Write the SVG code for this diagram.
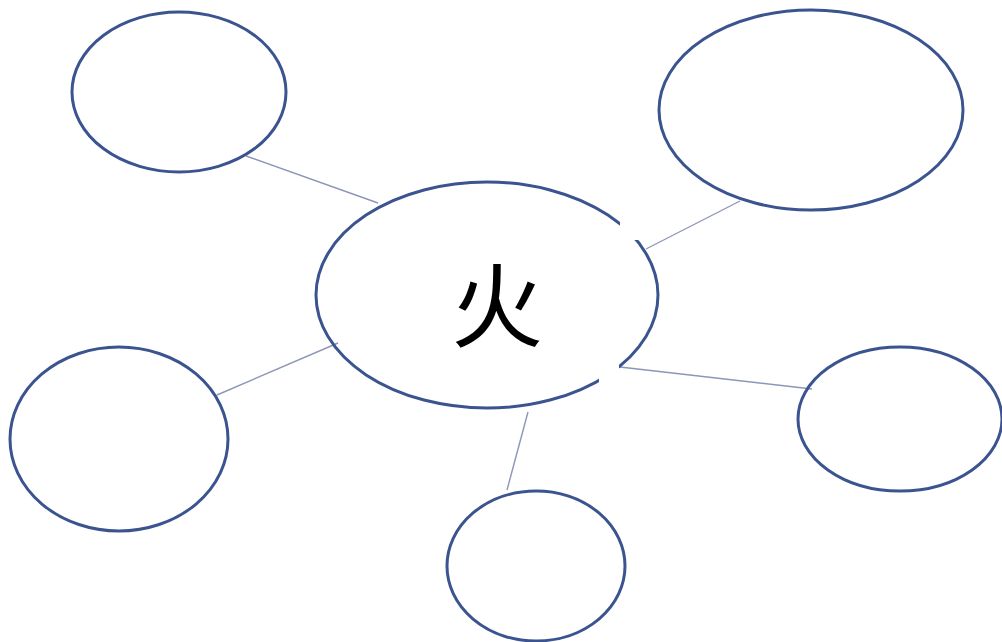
<svg xmlns="http://www.w3.org/2000/svg" width="1002" height="642" viewBox="0 0 1002 642">
<style>
.n{fill:none;stroke:#3b5490;stroke-width:3}
.c{stroke:#8c96b8;stroke-width:1.4;fill:none}
.t{font-family:"Noto Sans CJK SC","Noto Sans CJK JP",sans-serif;font-size:92px;fill:#000}
</style>
<rect width="1002" height="642" fill="#fff"/>
<g id="connectors">
<line class="c" x1="246" y1="156" x2="378" y2="203"/>
<line class="c" x1="740" y1="201" x2="646" y2="249"/>
<line class="c" x1="217" y1="395" x2="338" y2="343"/>
<line class="c" x1="620" y1="367" x2="812" y2="389"/>
<line class="c" x1="528" y1="412" x2="507" y2="490"/>
</g>
<g id="center">
<ellipse class="n" cx="487" cy="295" rx="171" ry="113"/>
<rect x="620" y="222" width="20" height="18" fill="#fff"/>
<rect x="599" y="364" width="20" height="20" fill="#fff"/>
<text class="t" x="497" y="340" text-anchor="middle">火</text>
</g>
<g id="node-tl"><ellipse class="n" cx="179" cy="92" rx="107" ry="80"/></g>
<g id="node-tr"><ellipse class="n" cx="811" cy="110" rx="152" ry="100"/></g>
<g id="node-l"><ellipse class="n" cx="119" cy="439" rx="109" ry="92"/></g>
<g id="node-r"><ellipse class="n" cx="900" cy="419" rx="102" ry="72"/></g>
<g id="node-b"><ellipse class="n" cx="536" cy="566" rx="89" ry="75"/></g>
</svg>
